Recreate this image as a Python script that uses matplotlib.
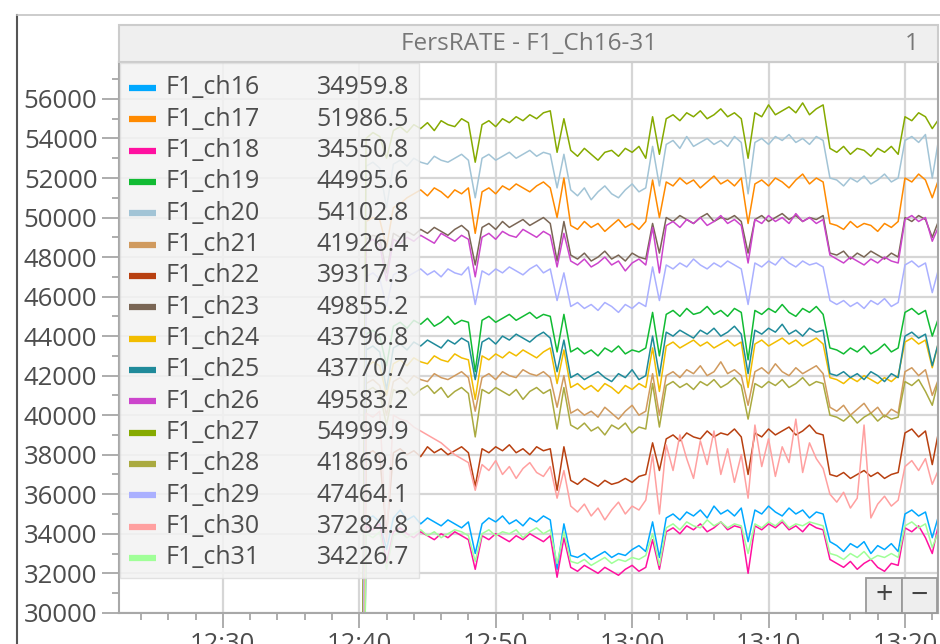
import numpy as np
import matplotlib
matplotlib.use("Agg")
import matplotlib.pyplot as plt
from matplotlib.patches import Rectangle
from matplotlib.lines import Line2D

plt.rcParams['font.family'] = ['Open Sans', 'DejaVu Sans']

# --------------------
# Data (rates in units of 100 counts, sampled every 30 s from 12:40)
# --------------------
channels = ["F1_ch16", "F1_ch17", "F1_ch18", "F1_ch19", "F1_ch20", "F1_ch21",
            "F1_ch22", "F1_ch23", "F1_ch24", "F1_ch25", "F1_ch26", "F1_ch27",
            "F1_ch28", "F1_ch29", "F1_ch30", "F1_ch31"]
colors = ["#00a8ff", "#ff8a00", "#ff10a0", "#11bb33", "#a2c4d6", "#d09a5e",
          "#b84010", "#7a6655", "#f2bd00", "#1f8a9a", "#cc44cc", "#86aa00",
          "#aaaa40", "#aab0ff", "#ffa0a0", "#a0ff98"]
last_values = [34959.8, 51986.5, 34550.8, 44995.6, 54102.8, 41926.4, 39317.3,
               49855.2, 43796.8, 43770.7, 49583.2, 54999.9, 41869.6, 47464.1,
               37284.8, 34226.7]

sample_step_min = 0.5
time_ticks = [-10, 0, 10, 20, 30, 40]
time_labels = ["12:30", "12:40", "12:50", "13:00", "13:10", "13:20"]

ch16 = [0, 347, 349, 346, 332, 348, 352, 347, 349, 345, 348, 346, 344, 347, 345, 343, 346,
        330, 345, 348, 346, 349, 345, 347, 344, 348, 346, 349, 347, 322, 345,
        329, 328, 330, 327, 329, 331, 328, 330, 329, 332, 334, 331, 346, 328,
        348, 350, 347, 351, 349, 352, 348, 354, 350, 352, 349, 353,
        336, 352, 350, 354, 351, 349, 353, 350, 352, 348, 351, 350,
        336, 334, 331, 335, 333, 336, 330, 334, 332, 335, 331,
        350, 352, 349, 351, 338, 350]
ch17 = [0, 498, 500, 499, 485, 505, 507, 510, 512, 514, 511, 515, 513, 510, 514, 512, 515,
        492, 513, 515, 512, 516, 514, 517, 515, 513, 516, 518, 515, 500, 520,
        496, 494, 498, 495, 497, 493, 496, 499, 495, 497, 494, 498, 519, 500,
        518, 516, 520, 517, 519, 515, 518, 521, 517, 519, 516, 520,
        497, 517, 519, 516, 520, 518, 515, 519, 522, 517, 520, 518,
        497, 496, 494, 498, 495, 497, 496, 493, 497, 495, 498,
        520, 518, 522, 519, 510, 520]
ch18 = [0, 344, 342, 345, 325, 341, 343, 340, 338, 341, 339, 337, 340, 338, 341, 339, 337,
        322, 339, 337, 340, 338, 336, 339, 337, 340, 338, 336, 339, 318, 338,
        323, 321, 324, 322, 320, 323, 321, 319, 322, 324, 321, 323, 337, 322,
        341, 343, 340, 344, 342, 345, 341, 343, 346, 342, 344, 343,
        320, 344, 342, 345, 343, 346, 342, 344, 341, 345, 343, 342,
        327, 325, 323, 326, 322, 325, 327, 323, 321, 325, 324,
        343, 341, 344, 338, 330, 346]
ch19 = [0, 441, 443, 440, 425, 445, 447, 444, 448, 446, 449, 445, 447, 450, 446, 448, 447,
        422, 448, 450, 447, 449, 451, 448, 450, 452, 449, 451, 450, 432, 451,
        432, 434, 431, 433, 430, 434, 432, 435, 431, 433, 432, 434, 452, 430,
        451, 453, 450, 454, 451, 452, 455, 451, 453, 450, 454, 452,
        428, 453, 451, 454, 452, 456, 452, 450, 454, 452, 455, 451,
        434, 433, 431, 434, 432, 435, 431, 433, 436, 432, 434,
        452, 454, 451, 453, 440, 450]
ch20 = [0, 526, 528, 525, 505, 527, 529, 526, 530, 528, 527, 531, 529, 528, 530, 532, 529,
        510, 530, 532, 529, 531, 533, 530, 532, 534, 531, 533, 532, 515, 532,
        514, 511, 515, 509, 513, 516, 512, 510, 514, 517, 513, 515, 536, 516,
        537, 539, 535, 541, 536, 538, 540, 537, 539, 536, 541, 538,
        512, 538, 540, 537, 541, 539, 542, 538, 540, 537, 541, 539,
        520, 519, 516, 520, 518, 521, 517, 519, 522, 518, 520,
        539, 541, 538, 542, 520, 541]
ch21 = [0, 416, 418, 415, 400, 417, 419, 416, 420, 418, 417, 421, 419, 418, 420, 422, 419,
        402, 419, 421, 418, 422, 420, 419, 423, 421, 420, 422, 419, 404, 420,
        401, 403, 400, 402, 399, 404, 401, 398, 402, 405, 400, 402, 421, 400,
        420, 422, 419, 423, 421, 425, 420, 422, 427, 421, 423, 420,
        405, 422, 424, 421, 426, 422, 420, 424, 421, 423, 425, 421,
        404, 402, 405, 400, 403, 406, 401, 404, 399, 403, 401,
        422, 424, 420, 423, 410, 419]
ch22 = [0, 380, 382, 379, 340, 381, 383, 380, 382, 379, 384, 381, 383, 380, 382, 384, 381,
        364, 383, 381, 384, 382, 385, 381, 383, 380, 384, 382, 383, 362, 384,
        367, 365, 368, 366, 364, 367, 365, 366, 368, 366, 369, 370, 386, 372,
        388, 390, 387, 391, 389, 388, 392, 389, 391, 390, 393, 389,
        370, 391, 389, 393, 390, 392, 394, 390, 392, 395, 391, 390,
        370, 369, 371, 368, 370, 372, 369, 371, 368, 370, 371,
        391, 393, 389, 392, 375, 393]
ch23 = [0, 489, 491, 490, 472, 492, 490, 493, 491, 494, 492, 495, 493, 491, 494, 496, 493,
        476, 495, 497, 494, 498, 495, 497, 499, 496, 498, 500, 497, 478, 498,
        481, 479, 482, 478, 480, 483, 479, 481, 478, 482, 480, 479, 497, 482,
        500, 498, 501, 499, 497, 500, 502, 498, 500, 499, 501, 498,
        482, 499, 501, 498, 500, 502, 499, 501, 498, 500, 499, 501,
        482, 481, 483, 479, 482, 480, 483, 481, 479, 482, 480,
        500, 498, 501, 499, 490, 499]
ch24 = [0, 424, 427, 425, 410, 426, 428, 425, 429, 427, 426, 430, 428, 427, 431, 429, 428,
        408, 430, 428, 431, 429, 432, 430, 433, 431, 429, 432, 434, 416, 433,
        414, 416, 413, 415, 412, 416, 414, 411, 415, 413, 416, 414, 434, 412,
        435, 437, 434, 436, 438, 435, 437, 434, 436, 438, 435, 437,
        414, 436, 438, 435, 437, 439, 436, 438, 435, 437, 439, 436,
        419, 418, 416, 419, 417, 420, 418, 416, 419, 417, 420,
        437, 439, 436, 438, 424, 438]
ch25 = [0, 433, 435, 432, 413, 434, 436, 433, 437, 435, 438, 436, 434, 438, 436, 439, 437,
        418, 437, 439, 436, 440, 438, 441, 439, 437, 440, 442, 439, 422, 438,
        419, 421, 418, 420, 422, 419, 417, 421, 419, 423, 418, 420, 440, 420,
        442, 440, 443, 441, 439, 443, 441, 444, 440, 442, 445, 441,
        421, 443, 441, 444, 442, 446, 441, 443, 440, 444, 442, 443,
        421, 420, 422, 419, 421, 418, 422, 420, 417, 421, 419,
        440, 442, 439, 441, 425, 438]
ch26 = [0, 487, 489, 486, 468, 489, 487, 490, 488, 491, 489, 487, 492, 490, 488, 491, 489,
        470, 490, 492, 489, 493, 491, 490, 494, 492, 490, 493, 491, 475, 492,
        478, 476, 479, 475, 477, 480, 476, 478, 473, 477, 479, 476, 495, 472,
        496, 498, 495, 499, 497, 500, 496, 498, 501, 497, 499, 496,
        477, 499, 497, 501, 498, 500, 497, 502, 498, 500, 497, 499,
        481, 479, 477, 480, 478, 476, 479, 477, 480, 478, 477,
        499, 501, 498, 500, 488, 496]
ch27 = [0, 540, 543, 541, 530, 544, 546, 543, 547, 545, 548, 544, 549, 547, 546, 550, 548,
        528, 547, 549, 546, 550, 548, 551, 549, 552, 550, 553, 554, 533, 550,
        534, 531, 535, 532, 529, 533, 534, 531, 535, 533, 536, 530, 551, 532,
        550, 552, 549, 553, 551, 554, 550, 552, 555, 551, 553, 550,
        530, 553, 551, 557, 552, 554, 556, 553, 558, 552, 555, 557,
        535, 533, 536, 532, 535, 534, 531, 535, 533, 536, 532,
        551, 549, 553, 551, 545, 550]
ch28 = [0, 412, 414, 411, 395, 413, 411, 414, 410, 413, 415, 411, 414, 409, 412, 414, 411,
        389, 413, 411, 414, 412, 410, 413, 408, 412, 414, 411, 413, 393, 414,
        395, 393, 396, 392, 394, 390, 395, 393, 396, 391, 394, 393, 416, 394,
        415, 417, 414, 416, 413, 417, 415, 418, 414, 416, 419, 415,
        398, 416, 414, 417, 415, 418, 414, 416, 419, 415, 417, 416,
        400, 399, 397, 400, 396, 399, 401, 397, 400, 398, 399,
        417, 415, 418, 412, 405, 419]
ch29 = [0, 470, 472, 469, 455, 471, 473, 470, 472, 474, 471, 473, 470, 474, 472, 471, 475,
        456, 473, 471, 474, 472, 475, 473, 471, 474, 476, 472, 474, 458, 472,
        455, 457, 454, 456, 453, 457, 455, 452, 456, 454, 457, 455, 475, 458,
        476, 474, 477, 475, 479, 476, 474, 477, 475, 478, 476, 474,
        456, 477, 475, 478, 476, 480, 477, 475, 478, 476, 477, 475,
        458, 456, 458, 455, 457, 454, 458, 456, 459, 455, 457,
        476, 478, 475, 477, 462, 475]
ch30 = [0, 401, 399, 402, 336, 400, 398, 397, 394, 392, 390, 388, 386, 383, 380, 378, 376,
        362, 375, 372, 377, 370, 374, 368, 373, 376, 371, 369, 374, 358, 372,
        354, 351, 355, 349, 353, 347, 352, 356, 350, 354, 352, 357, 380, 350,
        385, 372, 390, 378, 368, 387, 375, 392, 370, 383, 366, 380,
        358, 395, 374, 388, 369, 384, 376, 398, 371, 386, 378, 373,
        360, 356, 361, 353, 358, 395, 348, 355, 359, 354, 357,
        374, 377, 372, 378, 365, 373]
ch31 = [0, 340, 338, 341, 322, 339, 341, 338, 340, 342, 339, 341, 338, 340, 342, 341, 339,
        326, 340, 342, 339, 341, 340, 342, 338, 341, 343, 340, 342, 325, 341,
        326, 325, 327, 324, 326, 328, 325, 327, 326, 328, 327, 329, 340, 324,
        343, 345, 342, 346, 344, 343, 347, 344, 346, 343, 345, 344,
        330, 345, 343, 346, 344, 347, 343, 345, 344, 346, 345, 344,
        330, 329, 327, 330, 328, 331, 327, 329, 328, 330, 328,
        344, 346, 343, 345, 333, 342]

series = [ch16, ch17, ch18, ch19, ch20, ch21, ch22, ch23,
          ch24, ch25, ch26, ch27, ch28, ch29, ch30, ch31]


def fx(px):
    return px / 940.0


def fy(py):
    return 1.0 - py / 644.0


fig = plt.figure(figsize=(9.4, 6.44), dpi=100)

# outer window frame
fig.add_artist(Line2D([fx(17), fx(17)], [fy(15), fy(644)], color="#555555", lw=1.5))
fig.add_artist(Line2D([fx(17), fx(940)], [fy(15), fy(15)], color="#c4c4c4", lw=1.2))

# title bar
fig.add_artist(Rectangle((fx(119), fy(62)), fx(938) - fx(119), fy(25) - fy(62),
                         facecolor="#efefef", edgecolor="#cccccc", lw=1.5))
fig.text(fx(529), fy(44), "FersRATE - F1_Ch16-31", ha="center", va="center",
         fontsize=17.5, color="#777777")
fig.text(fx(912), fy(44), "1", ha="center", va="center", fontsize=17.5, color="#777777")

# plot area
ax = fig.add_axes([fx(119), fy(613), fx(938) - fx(119), fy(62) - fy(613)])
for i, (vals, col) in enumerate(zip(series, colors)):
    n = len(vals)
    t = np.arange(n) * sample_step_min
    ax.plot(t, np.array(vals) * 100.0, color=col, lw=1.1, zorder=2 + i * 0.01)

ax.set_xlim(-17.61, 42.42)
ax.set_ylim(29990, 57870)

ax.set_yticks(np.arange(30000, 56001, 2000))
ax.set_yticks(np.arange(30000, 57001, 1000), minor=True)
ax.set_xticks(time_ticks)
ax.set_xticklabels(time_labels)
ax.set_xticks(np.arange(-16, 43, 2), minor=True)

ax.grid(True, which="major", color="#d6d6d6", lw=1.6, zorder=0)
ax.set_axisbelow(True)
ax.tick_params(axis="y", which="major", length=12, width=1.2, color="#a0a0a0",
               labelsize=18.5, labelcolor="#4d4d4d", pad=3.5)
ax.tick_params(axis="y", which="minor", length=5, width=1.2, color="#a0a0a0")
ax.tick_params(axis="x", which="major", length=11, width=1.2, color="#a0a0a0",
               labelsize=18.5, labelcolor="#4d4d4d", pad=3)
ax.tick_params(axis="x", which="minor", length=5, width=1.2, color="#a0a0a0")
for side in ["left", "bottom", "right", "top"]:
    ax.spines[side].set_color("#a8a8a8")
    ax.spines[side].set_linewidth(1.5)

# legend panel
fig.add_artist(Rectangle((fx(120), fy(578)), fx(419) - fx(120), fy(63) - fy(578),
                         facecolor="#f3f3f3", edgecolor="#dddddd", lw=1.0, alpha=0.86))
row0, row_step = 88.0, (558.0 - 88.0) / 15
for k, (name, col, val) in enumerate(zip(channels, colors, last_values)):
    yy = fy(row0 + k * row_step)
    fig.add_artist(Line2D([fx(129), fx(156)], [yy, yy], color=col, lw=4.5,
                          solid_capstyle="butt"))
    fig.text(fx(166), yy, name, ha="left", va="center", fontsize=18, color="#4d4d4d")
    fig.text(fx(409), yy, f"{val:.1f}", ha="right", va="center", fontsize=18,
             color="#4d4d4d")

# zoom buttons
for x0, x1, sym in [(866, 902, "+"), (902, 937, "\u2212")]:
    fig.add_artist(Rectangle((fx(x0), fy(613)), fx(x1) - fx(x0), fy(578) - fy(613),
                             facecolor="#eeeeee", edgecolor="#9a9a9a", lw=1.3))
    fig.text(fx((x0 + x1) / 2), fy(596), sym, ha="center", va="center",
             fontsize=22, color="#444444")

fig.savefig("out.png", dpi=100)
